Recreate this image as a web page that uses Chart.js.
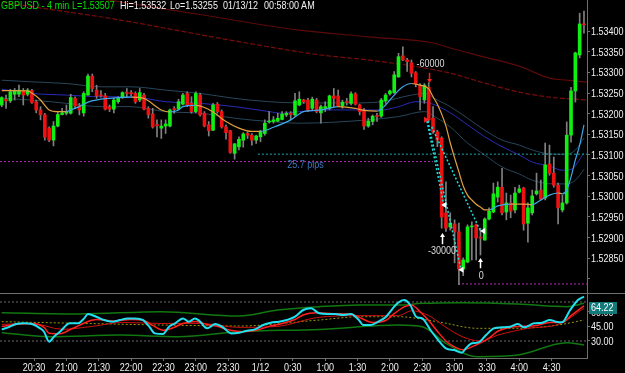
<!DOCTYPE html>
<html><head><meta charset="utf-8">
<script src="https://cdn.jsdelivr.net/npm/chart.js@4.4.1/dist/chart.umd.min.js"></script>
<style>
html,body{margin:0;padding:0;background:#000;}
body{width:625px;height:373px;position:relative;overflow:hidden;font-family:'Liberation Sans',Arial,sans-serif;}
canvas{position:absolute;left:0;display:block}
#c1{top:0}
#c2{top:294px}
.t{position:absolute;top:0;font-size:11px;line-height:11px;white-space:pre;color:#f2f2f2;transform:scaleX(0.82);transform-origin:0 0}
</style></head><body>
<canvas id="c1" width="625" height="294"></canvas>
<canvas id="c2" width="625" height="79"></canvas>
<div class="t" style="left:1px;color:#00e000">GBPUSD - 4 min</div>
<div class="t" style="left:72px;color:#00e000">L=1.53507</div>
<div class="t" style="left:120px">Hi=1.53532</div>
<div class="t" style="left:170px">Lo=1.53255</div>
<div class="t" style="left:223px">01/13/12</div>
<div class="t" style="left:264px">00:58:00 AM</div>
<script>
// ---------- data ----------
const timeLabels = ['20:30','21:00','21:30','22:00','22:30','23:00','23:30','1/12','0:30','1:00','1:30','2:00','2:30','3:00','3:30','4:00','4:30'];
const timeLabelMinutes = [30,60,90,120,150,180,210,240,270,300,330,360,390,420,450,480,510];
const barMinutes = 4; // 4-min bars starting 20:00
const priceTicks = [1.528,1.5285,1.529,1.5295,1.53,1.5305,1.531,1.5315,1.532,1.5325,1.533,1.5335,1.534];
const priceTickLabels = ['','1.52850','1.52900','1.52950','1.53000','1.53050','1.53100','1.53150','1.53200','1.53250','1.53300','1.53350','1.53400'];
const oscTicks = [30,45,60];
const oscTickLabels = ['30.00','45.00','60.00'];
const oscLast = 64.22;

const opens = [
1.53221,1.53235,1.53231,1.53247,1.53247,1.53256,1.53247,1.53256,1.53229,1.53209,
1.53197,1.53165,1.53136,1.53170,1.53198,1.53201,1.53201,1.53237,1.53219,1.53202,
1.53245,1.53291,1.53257,1.53244,1.53243,1.53216,1.53211,1.53229,1.53240,1.53252,
1.53251,1.53249,1.53233,1.53245,1.53213,1.53199,1.53172,1.53165,1.53170,1.53170,
1.53212,1.53211,1.53223,1.53249,1.53225,1.53205,1.53245,1.53201,1.53173,1.53160,
1.53223,1.53205,1.53168,1.53159,1.53104,1.53120,1.53136,1.53152,1.53148,1.53136,
1.53144,1.53152,1.53180,1.53181,1.53182,1.53186,1.53197,1.53201,1.53197,1.53221,
1.53233,1.53233,1.53213,1.53233,1.53202,1.53213,1.53213,1.53243,1.53243,1.53219,
1.53229,1.53225,1.53248,1.53221,1.53209,1.53170,1.53181,1.53194,1.53194,1.53231,
1.53248,1.53251,1.53289,1.53340,1.53330,1.53323,1.53299,1.53269,1.53233,1.53264,
1.53189,1.53156,1.53141,1.52960,1.52926,1.52933,1.52914,1.52824,1.52841,1.52926,
1.52931,1.52900,1.52894,1.52945,1.52962,1.52998,1.53022,1.52962,1.52984,1.52967,
1.53010,1.53020,1.52935,1.52960,1.53006,1.53015,1.52996,1.53078,1.53056,1.53027,
1.52967,1.52984,1.53148,1.53255,1.53342,1.53417];
const highs = [
1.53241,1.53245,1.53259,1.53261,1.53269,1.53261,1.53261,1.53259,1.53233,1.53217,
1.53201,1.53168,1.53181,1.53205,1.53213,1.53221,1.53247,1.53241,1.53225,1.53253,
1.53296,1.53296,1.53269,1.53256,1.53249,1.53221,1.53237,1.53241,1.53253,1.53261,
1.53256,1.53253,1.53261,1.53249,1.53217,1.53213,1.53185,1.53185,1.53185,1.53211,
1.53217,1.53235,1.53249,1.53253,1.53241,1.53253,1.53249,1.53205,1.53181,1.53225,
1.53227,1.53209,1.53173,1.53160,1.53128,1.53144,1.53154,1.53156,1.53152,1.53148,
1.53160,1.53185,1.53205,1.53193,1.53201,1.53205,1.53205,1.53205,1.53249,1.53253,
1.53235,1.53237,1.53240,1.53237,1.53221,1.53229,1.53245,1.53261,1.53257,1.53233,
1.53237,1.53253,1.53251,1.53223,1.53213,1.53189,1.53197,1.53201,1.53237,1.53249,
1.53257,1.53302,1.53346,1.53362,1.53334,1.53330,1.53302,1.53273,1.53273,1.53275,
1.53217,1.53160,1.53144,1.53035,1.52960,1.52943,1.52935,1.52851,1.52931,1.52938,
1.52933,1.52923,1.52948,1.52972,1.53032,1.53035,1.53068,1.53008,1.53003,1.53022,
1.53027,1.53022,1.52984,1.53015,1.53056,1.53039,1.53129,1.53124,1.53095,1.53032,
1.53003,1.53180,1.53264,1.53349,1.53443,1.53448];
const lows = [
1.53217,1.53213,1.53227,1.53233,1.53241,1.53221,1.53243,1.53225,1.53202,1.53185,
1.53136,1.53132,1.53122,1.53168,1.53197,1.53197,1.53199,1.53213,1.53197,1.53194,
1.53245,1.53253,1.53237,1.53240,1.53209,1.53205,1.53202,1.53225,1.53237,1.53240,
1.53243,1.53225,1.53229,1.53209,1.53189,1.53165,1.53144,1.53140,1.53152,1.53168,
1.53201,1.53209,1.53221,1.53217,1.53201,1.53202,1.53194,1.53168,1.53146,1.53159,
1.53201,1.53165,1.53138,1.53104,1.53090,1.53112,1.53119,1.53140,1.53124,1.53128,
1.53132,1.53148,1.53177,1.53177,1.53181,1.53185,1.53193,1.53185,1.53194,1.53219,
1.53225,1.53205,1.53209,1.53202,1.53177,1.53205,1.53209,1.53217,1.53217,1.53213,
1.53221,1.53221,1.53221,1.53197,1.53162,1.53167,1.53173,1.53181,1.53191,1.53225,
1.53245,1.53249,1.53288,1.53328,1.53302,1.53289,1.53265,1.53209,1.53225,1.53181,
1.53152,1.53120,1.52923,1.52915,1.52918,1.52839,1.52786,1.52808,1.52839,1.52846,
1.52846,1.52858,1.52894,1.52943,1.52960,1.52986,1.52955,1.52943,1.52948,1.52960,
1.53008,1.52918,1.52889,1.52955,1.53003,1.52991,1.52991,1.53051,1.53022,1.52933,
1.52962,1.52981,1.53131,1.53228,1.53335,1.53395];
const closes = [
1.53239,1.53231,1.53253,1.53255,1.53257,1.53245,1.53257,1.53227,1.53209,1.53197,
1.53143,1.53136,1.53170,1.53198,1.53202,1.53203,1.53239,1.53219,1.53209,1.53249,
1.53291,1.53261,1.53243,1.53243,1.53211,1.53211,1.53233,1.53237,1.53251,1.53249,
1.53248,1.53229,1.53251,1.53211,1.53198,1.53168,1.53171,1.53170,1.53175,1.53209,
1.53210,1.53229,1.53245,1.53221,1.53205,1.53249,1.53197,1.53170,1.53159,1.53221,
1.53205,1.53168,1.53154,1.53106,1.53127,1.53138,1.53151,1.53148,1.53136,1.53146,
1.53156,1.53177,1.53181,1.53185,1.53189,1.53199,1.53201,1.53198,1.53231,1.53235,
1.53229,1.53207,1.53235,1.53205,1.53217,1.53217,1.53243,1.53237,1.53219,1.53228,
1.53227,1.53248,1.53223,1.53205,1.53170,1.53182,1.53194,1.53193,1.53233,1.53245,
1.53255,1.53294,1.53338,1.53330,1.53326,1.53298,1.53272,1.53241,1.53269,1.53185,
1.53156,1.53136,1.52950,1.52923,1.52935,1.52914,1.52824,1.52846,1.52926,1.52928,
1.52899,1.52899,1.52945,1.52964,1.53006,1.53022,1.52960,1.52984,1.52964,1.53008,
1.53018,1.52933,1.52972,1.53001,1.53013,1.52993,1.53076,1.53056,1.53027,1.52972,
1.52984,1.53148,1.53255,1.53347,1.53417,1.53415];

// moving averages (bar index -> price)
const fastMaIndex = [0,3,6,7,9,11,13,15,16,18,20,23,26,30,33,34,37,39,41,42,45,47,49,52,55,58,60,63,67,70,74,78,82,84,87,89,91,93,95,97,99,100,101,102,103,104,105,106,107,108,109,110,111,112,113,115,118,121,123,125,127,129,130,131,132,133,134,135];
const fastMaPrice = [1.53256,1.53256,1.53255,1.53250,1.53233,1.53209,1.53205,1.53205,1.53209,1.53217,1.53228,1.53235,1.53238,1.53240,1.53237,1.53231,1.53209,1.53204,1.53209,1.53217,1.53220,1.53215,1.53204,1.53181,1.53165,1.53157,1.53157,1.53167,1.53185,1.53205,1.53209,1.53217,1.53213,1.53208,1.53206,1.53221,1.53245,1.53265,1.53273,1.53269,1.53260,1.53241,1.53223,1.53199,1.53170,1.53129,1.53093,1.53059,1.53025,1.53003,1.52991,1.52981,1.52974,1.52967,1.52967,1.52977,1.52981,1.52981,1.52980,1.52991,1.53003,1.53008,1.53006,1.53015,1.53047,1.53088,1.53124,1.53173];
const slowMaIndex = [0,7,15,23,30,38,46,54,62,65,69,77,83,88,92,96,100,104,108,112,116,120,123,127,130,132,135];
const slowMaPrice = [1.53259,1.53249,1.53245,1.53241,1.53241,1.53229,1.53225,1.53217,1.53205,1.53201,1.53205,1.53209,1.53209,1.53209,1.53217,1.53229,1.53223,1.53202,1.53173,1.53144,1.53120,1.53100,1.53083,1.53073,1.53063,1.53065,1.53105];
const bandUpIndex = [0,7,15,23,30,38,46,54,62,69,81,88,95,98,101,104,108,112,116,120,123,128,131,133,135];
const bandUpPrice = [1.53281,1.53277,1.53273,1.53265,1.53265,1.53257,1.53249,1.53237,1.53229,1.53226,1.53226,1.53229,1.53245,1.53249,1.53233,1.53217,1.53189,1.53160,1.53136,1.53124,1.53112,1.53102,1.53102,1.53112,1.53141];
const bandLoIndex = [0,7,15,23,30,38,46,54,62,69,85,92,98,101,104,108,112,116,120,123,128,131,133,135];
const bandLoPrice = [1.53237,1.53233,1.53225,1.53217,1.53217,1.53205,1.53201,1.53189,1.53181,1.53177,1.53185,1.53193,1.53205,1.53189,1.53168,1.53129,1.53100,1.53071,1.53054,1.53039,1.53030,1.53030,1.53039,1.53065];
const longMa1Index = [0,23,46,69,85,100,104,112,120,127,131,136];
const longMa1Price = [1.53520,1.53478,1.53440,1.53402,1.53386,1.53371,1.53359,1.53337,1.53315,1.53286,1.53281,1.53276];
const longMa2Index = [0,14,25,53,74,85,96,104,112,120,127,136];
const longMa2Price = [1.53470,1.53448,1.53431,1.53378,1.53342,1.53330,1.53314,1.53298,1.53274,1.53252,1.53240,1.53233];

// price levels and trade lines
const levelMagenta = {from:-0.4, to:100, price:1.53084};
const levelTeal = {from:59.4, to:136, price:1.53102};
const levelLow = {from:105.8, to:136, price:1.52788};
const tradeLines = [
  [[98.6,1.53182],[102.5,1.52979]],
  [[98.8,1.53182],[106.5,1.52822]],
  [[99.7,1.53168],[110.9,1.52918]]
];
const noteTexts = [
  {text:'-60000', i:99.4, p:1.53320, color:'#dcdcdc', align:'center'},
  {text:'-30000', i:102.1, p:1.52868, color:'#dcdcdc', align:'center'},
  {text:'0', i:111.2, p:1.52808, color:'#dcdcdc', align:'center'},
  {text:'25.7 pips', i:66.2, p:1.53076, color:'#3a78c0', align:'left'}
];
const upArrows = [{i:102.0, tip:1.52911, tail:1.52884},{i:111.0, tip:1.52851, tail:1.52826}];
const downArrows = [{i:99.0, tip:1.53274, tail:1.53299}];
const rightMarks = [{i:98.4, p:1.53185}];
const leftMarks = [{i:102.6, p:1.52979},{i:106.6, p:1.52822},{i:111.6, p:1.52916}];

// oscillator panel (bar index -> value)
const rsiIndex = [0,1.5,3.3,5.2,7,8.9,9.8,11,12.1,13.5,15.8,17.7,19.1,20,21.9,23.7,25.6,27.4,29.1,30.9,32.8,34.2,35.5,37.4,38.8,40.2,42,43.4,44.8,45.8,47.6,49.5,51.3,53.2,55,56.9,58.7,60.6,62.4,64.3,66.1,68,69.9,71.7,73.6,75.4,77.3,79.1,81,82.8,83.8,85.6,87.3,89.1,90.5,91.9,93.3,94.7,96.1,97.5,99.4,101.2,103,104.9,106.7,107.6,109,110.4,112.3,114.1,116,117.9,119.7,121.1,123.4,125.3,127.1,128.5,129.9,131.8,133.6,135];
const rsiValue = [41.9,44,47.4,48.1,47.4,43,39.5,29.3,34.4,39.5,48.1,48.1,53.2,57.7,54.9,51.5,49.8,51.5,53.2,53.2,51.5,44.7,37.8,37.2,44.7,48.1,53.2,49.8,53.2,50.8,43,47.4,44,37.8,38.5,40.6,41.9,46.4,48.8,49.8,51.5,54.9,61.8,63.5,58.4,57.7,57.7,56.7,57.7,51.5,46.4,46.4,49.8,54.9,62.5,69.3,72,66.9,54.9,53.2,41.3,31,22.4,20.7,18,22.4,27.6,28.3,36.1,43,44,44.7,47.4,44,48.1,48.8,51.5,49.8,49.1,61.8,72,75.5];
const sigIndex = [0,3.3,7,9.8,11,13.5,16,18,20,22,26,30,33,35,37.5,40,42,45,47.6,50,53,56,59,62,65,68,70,73,77,81,83,86,89,91,93.3,95,97,99.4,101,103,105,107,109,111,113,115,118,121,124,127,130,132,135];
const sigValue = [45,47,48,44,38,37.5,42,46,50,52,50.5,52,51,46,41,44,48,50,47,45,41,39.5,41,45,48,52,57,59,58,57.5,54,49,51,58,65,67,60,49,40,30,24,21,24,28,33,40,44,45,46,49,49,56,66];
const slowSigIndex = [0,7,14,21,28,37,46,55,64,73,83,92,95,99,103,107,111,115,122,129,135];
const slowSigValue = [47,48,42,45,49,48,48,44,45,54,56,56,61,56,44,34,30,36,43,47,63.5];
const oscMidIndex = [0,18,37,55,73.6,83,92,101,110.4,119.7,129,135];
const oscMidValue = [49.8,48.1,46.4,45.4,51.5,54.9,54.9,49.8,43,43,46.4,51.5];
const oscUpIndex = [0,18,37,55,64,73.6,83,92,97.5,106,119.7,131,135];
const oscUpValue = [59,57.7,60,55.6,61.8,65.2,66.9,66.9,68.6,69.3,68,65.2,68.6];
const oscLoIndex = [0,11,27.4,41,55,73.6,92,97.5,103,110.4,119.7,131,135];
const oscLoValue = [38.5,34.4,36.1,34.4,39.5,41.9,46.4,44.7,27.6,13.9,15.6,28.3,25.9];
const oscLevels = [70,30];

// ---------- styling ----------
const FONT = "'Liberation Sans',Arial,sans-serif";
const NARROW = 0.82;
Chart.defaults.font.family = FONT;
Chart.defaults.font.size = 11;
Chart.defaults.color = '#eeeeee';
Chart.defaults.animation = false;
const GREEN = '#11ee11', RED = '#ee1111', WICK = '#808080', AXIS = '#707070';
const ORANGE = '#e0a040', LBLUE = '#3ea8e8';
const X_MIN = -0.4, X_MAX = 135.7;
const AXIS_W = 38;
function fixY(s){ s.width = AXIS_W; s.paddingTop = 0; s.paddingBottom = 0; }
const pairs = (xs, ys) => xs.map((x,k)=>({x:x, y:ys[k]}));
function lineDs(xs, ys, color, width, order, extra){
  return Object.assign({type:'line', data:pairs(xs,ys), borderColor:color, borderWidth:width,
    pointRadius:0, fill:false, cubicInterpolationMode:'monotone', order:order}, extra||{});
}
function narrowText(ctx, text, x, y, align, color){
  ctx.save();
  ctx.translate(x, y);
  ctx.scale(NARROW, 1);
  ctx.font = '11px ' + FONT;
  ctx.fillStyle = color;
  ctx.textAlign = align; ctx.textBaseline = 'middle';
  ctx.fillText(text, 0, 0);
  ctx.restore();
}
function drawYLabels(chart, values, labels){
  const s = chart.scales.y;
  values.forEach((v,k)=>{ if(labels[k]) narrowText(chart.ctx, labels[k], s.left + 4, Math.round(s.getPixelForValue(v)) + 0.5, 'left', '#f0f0f0'); });
}

// ---------- main chart ----------
const wickData = lows.map((l,i)=>({x:i, y:[l, highs[i]]}));
const bodyData = opens.map((o,i)=>({x:i, y:[o, closes[i]]}));
const bodyColors = opens.map((o,i)=> closes[i] >= o ? GREEN : RED);

const mainAnnot = {
  id:'mainAnnot',
  afterDraw(chart){
    const {ctx, chartArea:a, scales:{x, y}} = chart;
    ctx.save();
    ctx.strokeStyle = AXIS; ctx.lineWidth = 1;
    ctx.beginPath(); ctx.moveTo(0, a.bottom-0.5); ctx.lineTo(chart.width, a.bottom-0.5); ctx.stroke();
    noteTexts.forEach(n=> narrowText(ctx, n.text, x.getPixelForValue(n.i), y.getPixelForValue(n.p), n.align, n.color));
    function arrow(px, yTail, yTip, color){
      const dir = yTip < yTail ? -1 : 1;
      ctx.strokeStyle = color; ctx.fillStyle = color; ctx.lineWidth = 1.5;
      ctx.beginPath(); ctx.moveTo(px, yTail); ctx.lineTo(px, yTip - dir*3); ctx.stroke();
      ctx.beginPath(); ctx.moveTo(px, yTip); ctx.lineTo(px-2.5, yTip - dir*4); ctx.lineTo(px+2.5, yTip - dir*4); ctx.closePath(); ctx.fill();
    }
    upArrows.forEach(a1=>arrow(Math.round(x.getPixelForValue(a1.i))+0.5, y.getPixelForValue(a1.tail), y.getPixelForValue(a1.tip), '#ffffff'));
    downArrows.forEach(a1=>arrow(Math.round(x.getPixelForValue(a1.i))+0.5, y.getPixelForValue(a1.tail), y.getPixelForValue(a1.tip), '#ff2020'));
    rightMarks.forEach(m=>{ const px=x.getPixelForValue(m.i), py=y.getPixelForValue(m.p);
      ctx.fillStyle='#ff2020'; ctx.beginPath(); ctx.moveTo(px-2,py-3); ctx.lineTo(px-2,py+3); ctx.lineTo(px+3,py); ctx.closePath(); ctx.fill(); });
    leftMarks.forEach(m=>{ const px=x.getPixelForValue(m.i), py=y.getPixelForValue(m.p);
      ctx.fillStyle='#ffffff'; ctx.beginPath(); ctx.moveTo(px+2,py-3); ctx.lineTo(px+2,py+3); ctx.lineTo(px-3,py); ctx.closePath(); ctx.fill(); });
    ctx.restore();
    drawYLabels(chart, priceTicks, priceTickLabels);
  }
};

const levelDs = (lv, color, order) => ({type:'line', data:[{x:lv.from,y:lv.price},{x:lv.to,y:lv.price}],
  borderColor:color, borderWidth:1, borderDash:[2,2], pointRadius:0, fill:false, order:order});

new Chart(document.getElementById('c1'), {
  type:'bar',
  data:{datasets:[
    lineDs(longMa1Index, longMa1Price, '#5c0a0a', 1.2, 20),
    lineDs(longMa2Index, longMa2Price, '#7a0c0c', 1.2, 19, {borderDash:[5,2]}),
    lineDs(bandUpIndex, bandUpPrice, '#27465a', 1, 18),
    lineDs(bandLoIndex, bandLoPrice, '#27465a', 1, 17),
    lineDs(slowMaIndex, slowMaPrice, '#2a2ab8', 1, 16),
    levelDs(levelMagenta, '#b030b0', 15),
    levelDs(levelTeal, '#20a8a8', 15),
    levelDs(levelLow, '#b030b0', 15),
    {type:'bar', data:wickData, backgroundColor:WICK, barThickness:1, grouped:false, borderWidth:0, order:12},
    {type:'bar', data:bodyData, backgroundColor:bodyColors, barThickness:3, grouped:false, minBarLength:1, borderWidth:0, order:11},
    lineDs(fastMaIndex, fastMaPrice, LBLUE, 1.2, 10, {segment:{borderColor: c => c.p1.parsed.y <= c.p0.parsed.y ? ORANGE : LBLUE}}),
    ...tradeLines.map(t=>({type:'line', data:[{x:t[0][0],y:t[0][1]},{x:t[1][0],y:t[1][1]}], borderColor:'#22dddd', borderWidth:1.5, borderDash:[2,2], pointRadius:0, fill:false, order:5}))
  ]},
  options:{
    responsive:false, events:[], layout:{padding:0},
    plugins:{legend:{display:false}, tooltip:{enabled:false}},
    scales:{
      x:{type:'linear', display:false, min:X_MIN, max:X_MAX, offset:false},
      y:{position:'right', min:1.527636, max:1.534751,
        afterBuildTicks: s=>{ s.ticks = priceTicks.map(v=>({value:v})); },
        afterFit: fixY,
        grid:{drawOnChartArea:false, drawTicks:true, tickLength:3, color:AXIS},
        border:{color:AXIS},
        ticks:{autoSkip:false, padding:1, callback:()=>''}}
    }
  },
  plugins:[mainAnnot]
});

// ---------- oscillator chart ----------
const oscAnnot = {
  id:'oscAnnot',
  afterDraw(chart){
    const {ctx, scales:{x, y}} = chart;
    drawYLabels(chart, oscTicks, oscTickLabels);
    const py = Math.round(y.getPixelForValue(oscLast));
    ctx.save();
    ctx.fillStyle = '#137a7a';
    ctx.fillRect(589, py-6, 28, 12);
    ctx.restore();
    narrowText(ctx, oscLast.toFixed(2), 591, py, 'left', '#ffffff');
    const ly = x.top + 9.5;
    timeLabelMinutes.forEach((m,k)=> narrowText(ctx, timeLabels[k], x.getPixelForValue(m/barMinutes), ly, 'center', '#f0f0f0'));
  }
};
new Chart(document.getElementById('c2'), {
  type:'line',
  data:{datasets:[
    ...oscLevels.map(v=>({type:'line', data:[{x:X_MIN,y:v},{x:X_MAX,y:v}], borderColor:'#6a6a6a', borderWidth:1, borderDash:[2,2], pointRadius:0, fill:false, order:20})),
    lineDs(oscUpIndex, oscUpValue, '#117711', 1.5, 15),
    lineDs(oscLoIndex, oscLoValue, '#117711', 1.5, 15),
    lineDs(oscMidIndex, oscMidValue, '#9a9a10', 1, 14, {borderDash:[2,2]}),
    lineDs(slowSigIndex, slowSigValue, '#d01010', 1, 13),
    lineDs(sigIndex, sigValue, '#ff2020', 1.5, 12),
    lineDs(rsiIndex, rsiValue, '#22e0f0', 2, 11)
  ]},
  options:{
    responsive:false, events:[], layout:{padding:0},
    plugins:{legend:{display:false}, tooltip:{enabled:false}},
    scales:{
      x:{type:'linear', min:X_MIN, max:X_MAX, offset:false,
        afterBuildTicks: s=>{ s.ticks = timeLabelMinutes.map(m=>({value:m/barMinutes})); },
        afterFit: s=>{ s.height = 15; s.paddingLeft = 0; s.paddingRight = 0; },
        grid:{drawOnChartArea:false, drawTicks:true, tickLength:3, color:AXIS},
        border:{color:AXIS},
        ticks:{autoSkip:false, maxRotation:0, minRotation:0, padding:0, callback:()=>''}},
      y:{position:'right', min:12.56, max:78.2,
        afterBuildTicks: s=>{ s.ticks = oscTicks.map(v=>({value:v})); },
        afterFit: fixY,
        grid:{drawOnChartArea:false, drawTicks:true, tickLength:3, color:AXIS},
        border:{color:AXIS},
        ticks:{autoSkip:false, padding:1, callback:()=>''}}
    }
  },
  plugins:[oscAnnot]
});
</script>
</body></html>
